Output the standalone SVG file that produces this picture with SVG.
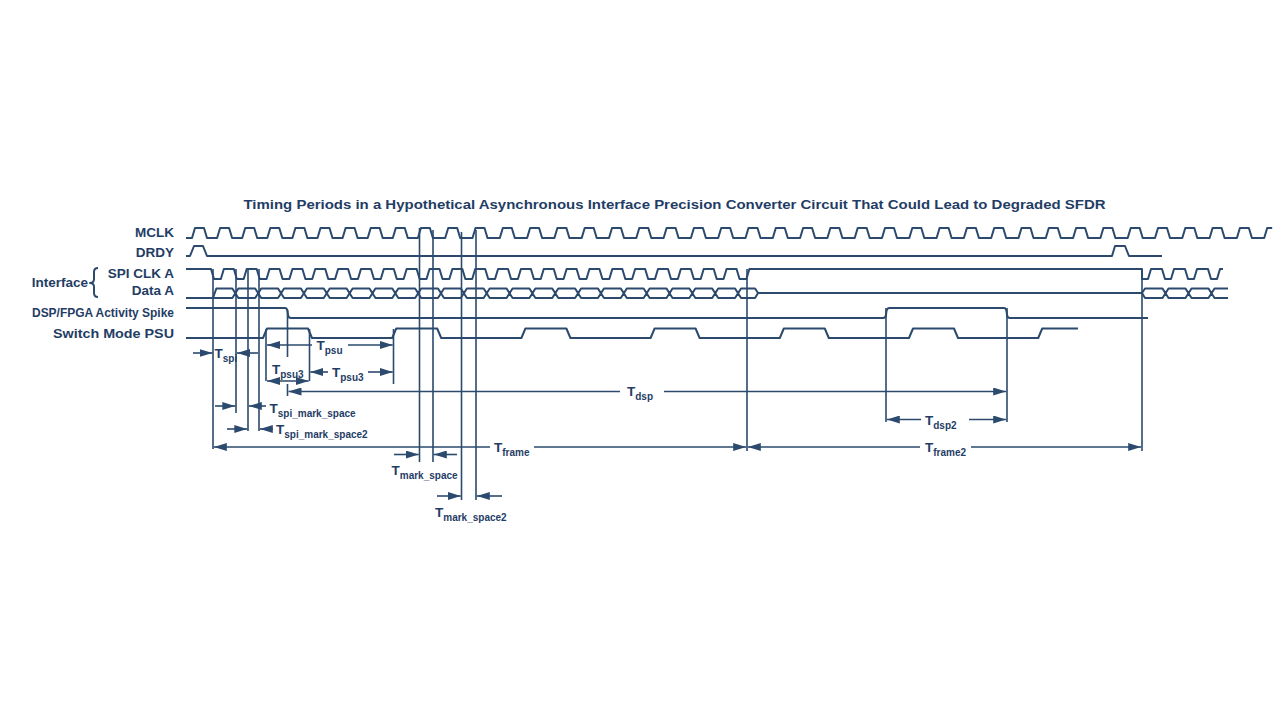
<svg xmlns="http://www.w3.org/2000/svg" width="1280" height="720" viewBox="0 0 1280 720">
<defs>
<style>
.wave{fill:none;stroke:#2b4a6e;stroke-width:2;stroke-linejoin:round}
.vl{stroke:#2b4a6e;stroke-width:1.6;fill:none}
.dim{stroke:#2b4a6e;stroke-width:1.6;fill:none;marker-end:url(#ah)}
.both{marker-start:url(#ah)}
.lbl{font-family:"Liberation Sans",Arial,sans-serif;font-weight:bold;font-size:13.5px;fill:#1f3d65}
.t{font-family:"Liberation Sans",Arial,sans-serif;font-weight:bold;font-size:13.5px;fill:#1f3d65}
.sub{font-size:10px}
</style>
<marker id="ah" viewBox="0 0 13 8" refX="13" refY="4" markerWidth="13" markerHeight="8" markerUnits="userSpaceOnUse" orient="auto-start-reverse"><path d="M0,0 L13,4 L0,8 z" fill="#2b4a6e"/></marker>
</defs>
<rect width="1280" height="720" fill="#ffffff"/>

<g id="title">
<text class="lbl" x="674.5" y="209" text-anchor="middle" textLength="862" lengthAdjust="spacingAndGlyphs">Timing Periods in a Hypothetical Asynchronous Interface Precision Converter Circuit That Could Lead to Degraded SFDR</text>
</g>

<g id="sig-mclk">
<text class="lbl" x="174" y="237" text-anchor="end">MCLK</text>
<path class="wave" d="M186,238 H192 l3,-10 h9 l3,10 h10.1 l3,-10 h9 l3,10 h10.1 l3,-10 h9 l3,10 h10.1 l3,-10 h9 l3,10 h10.1 l3,-10 h9 l3,10 h10.1 l3,-10 h9 l3,10 h10.1 l3,-10 h9 l3,10 h10.1 l3,-10 h9 l3,10 h10.1 l3,-10 h9 l3,10 h10.1 l3,-10 h9 l3,10 h12.3 l3,-10 h9 l3,10 h12.3 l3,-10 h9 l3,10 h12.3 l3,-10 h9 l3,10 h12.3 l3,-10 h9 l3,10 h12.3 l3,-10 h9 l3,10 h12.3 l3,-10 h9 l3,10 h12.3 l3,-10 h9 l3,10 h12.3 l3,-10 h9 l3,10 h12.3 l3,-10 h9 l3,10 h12.3 l3,-10 h9 l3,10 h12.3 l3,-10 h9 l3,10 h12.3 l3,-10 h9 l3,10 h12.3 l3,-10 h9 l3,10 h12.3 l3,-10 h9 l3,10 h12.3 l3,-10 h9 l3,10 h12.3 l3,-10 h9 l3,10 h12.3 l3,-10 h9 l3,10 h12.3 l3,-10 h9 l3,10 h12.3 l3,-10 h9 l3,10 h12.3 l3,-10 h9 l3,10 h12.3 l3,-10 h9 l3,10 h12.3 l3,-10 h9 l3,10 h12.3 l3,-10 h9 l3,10 h12.3 l3,-10 h9 l3,10 h12.3 l3,-10 h9 l3,10 h12.3 l3,-10 h9 l3,10 h12.3 l3,-10 h9 l3,10 h12.3 l3,-10 h9 l3,10 h12.3 l3,-10 h9 l3,10 h12.3 l3,-10 h9 l3,10 h12.3 l3,-10 h5"/>
</g>

<g id="sig-drdy">
<text class="lbl" x="174" y="257" text-anchor="end">DRDY</text>
<path class="wave" d="M186,256 H190 l4,-10 h9 l4,10 H1112 l3,-10 h10 l4,10 H1162"/>
</g>

<g id="sig-interface">
<text class="lbl" x="88" y="287" text-anchor="end">Interface</text>
<path class="wave" d="M98,268 Q94,268 94,272 L94,279 Q94,283 90,283 Q94,283 94,287 L94,293 Q94,297 98,297"/>
</g>

<g id="sig-spiclk">
<text class="lbl" x="174" y="278" text-anchor="end">SPI CLK A</text>
<path class="wave" d="M186,269 H211 l3,10 h6.85 l3,-10 h10 l3,10 h6.85 l3,-10 h10 l3,10 h6.85 l3,-10 h10 l3,10 h6.85 l3,-10 h10 l3,10 h6.85 l3,-10 h10 l3,10 h6.85 l3,-10 h10 l3,10 h6.85 l3,-10 h10 l3,10 h6.85 l3,-10 h10 l3,10 h6.85 l3,-10 h10 l3,10 h6.85 l3,-10 h10 l3,10 h6.85 l3,-10 h10 l3,10 h6.85 l3,-10 h10 l3,10 h6.85 l3,-10 h10 l3,10 h6.85 l3,-10 h10 l3,10 h6.85 l3,-10 h10 l3,10 h6.85 l3,-10 h10 l3,10 h6.85 l3,-10 h10 l3,10 h6.85 l3,-10 h10 l3,10 h6.85 l3,-10 h10 l3,10 h6.85 l3,-10 h10 l3,10 h6.85 l3,-10 h10 l3,10 h6.85 l3,-10 h10 l3,10 h6.85 l3,-10 h10 l3,10 h6.85 l3,-10 H1142 V279 h6 l3,-10 h11 l3,10 h6 l3,-10 h11 l3,10 h6 l3,-10 h11 l3,10 h6 l3,-10 h3"/>
</g>

<g id="sig-data">
<text class="lbl" x="174" y="295" text-anchor="end">Data A</text>
<path class="wave" d="M213,298 L216.35,288.5 h16 l3,4.75 l3,-4.75 h16.85 l3,4.75 l3,-4.75 h16.85 l3,4.75 l3,-4.75 h16.85 l3,4.75 l3,-4.75 h16.85 l3,4.75 l3,-4.75 h16.85 l3,4.75 l3,-4.75 h16.85 l3,4.75 l3,-4.75 h16.85 l3,4.75 l3,-4.75 h16.85 l3,4.75 l3,-4.75 h16.85 l3,4.75 l3,-4.75 h16.85 l3,4.75 l3,-4.75 h16.85 l3,4.75 l3,-4.75 h16.85 l3,4.75 l3,-4.75 h16.85 l3,4.75 l3,-4.75 h16.85 l3,4.75 l3,-4.75 h16.85 l3,4.75 l3,-4.75 h16.85 l3,4.75 l3,-4.75 h16.85 l3,4.75 l3,-4.75 h16.85 l3,4.75 l3,-4.75 h16.85 l3,4.75 l3,-4.75 h16.85 l3,4.75 l3,-4.75 h16.85 l3,4.75 l3,-4.75 h16.85 l3,4.75 l3,-4.75 h14 l3,4.5 H1142 L1145,288.5 h17.5 l3,4.75 l3,-4.75 h17 l3,4.75 l3,-4.75 h17 l3,4.75 l3,-4.75 H1228"/>
<path class="wave" d="M186,298 H232.35 l3,-4.75 l3,4.75 h16.85 l3,-4.75 l3,4.75 h16.85 l3,-4.75 l3,4.75 h16.85 l3,-4.75 l3,4.75 h16.85 l3,-4.75 l3,4.75 h16.85 l3,-4.75 l3,4.75 h16.85 l3,-4.75 l3,4.75 h16.85 l3,-4.75 l3,4.75 h16.85 l3,-4.75 l3,4.75 h16.85 l3,-4.75 l3,4.75 h16.85 l3,-4.75 l3,4.75 h16.85 l3,-4.75 l3,4.75 h16.85 l3,-4.75 l3,4.75 h16.85 l3,-4.75 l3,4.75 h16.85 l3,-4.75 l3,4.75 h16.85 l3,-4.75 l3,4.75 h16.85 l3,-4.75 l3,4.75 h16.85 l3,-4.75 l3,4.75 h16.85 l3,-4.75 l3,4.75 h16.85 l3,-4.75 l3,4.75 h16.85 l3,-4.75 l3,4.75 h16.85 l3,-4.75 l3,4.75 h16.85 l3,-4.75 l3,4.75 h14 l3,-5 M1142,293 L1145,298 h17.5 l3,-4.75 l3,4.75 h17 l3,-4.75 l3,4.75 h17 l3,-4.75 l3,4.75 H1228"/>
</g>

<g id="sig-dsp">
<text class="lbl" x="174" y="317" text-anchor="end" textLength="142" lengthAdjust="spacingAndGlyphs">DSP/FPGA Activity Spike</text>
<path class="wave" d="M186,308 H285 q2,0 2.5,3 l0.5,4 q0.5,3 3,3 H883 q2.5,0 3,-3 l0.5,-4 q0.5,-3 3,-3 H1004 q2,0 2.5,3 l0.5,4 q0.5,3 3,3 H1148"/>
</g>

<g id="sig-psu">
<text class="lbl" x="174" y="338" text-anchor="end" textLength="121" lengthAdjust="spacingAndGlyphs">Switch Mode PSU</text>
<path class="wave" d="M186,338 H263 l4,-9.5 h41 l4,9.5 H392.2 l4,-9.5 h41 l4,9.5 H521.4 l4,-9.5 h41 l4,9.5 H650.6 l4,-9.5 h41 l4,9.5 H779.8 l4,-9.5 h41 l4,9.5 H909 l4,-9.5 h41 l4,9.5 H1038.2 l4,-9.5 H1078"/>
</g>

<g id="connectors">
<g id="extension-lines">
<path class="vl" d="M213,269 V449 M236,269 V413 M248,269 V431 M259,269 V431 M266,329 V381 M309.5,329 V381 M393.5,329 V384 M287.5,310 V357 M287.5,384 V396 M419.5,228 V462 M433,230 V462 M461.5,232 V500 M476,230 V500 M747,269 V451 M886,308 V422 M1007,308 V422 M1142,269 V451"/>
</g>
<g id="dim-arrows">
<line class="dim" x1="193" y1="353" x2="212.5" y2="353"/>
<line class="dim" x1="258" y1="353" x2="237" y2="353"/>
<line class="dim" x1="312" y1="345" x2="267" y2="345"/>
<line class="dim" x1="348" y1="345" x2="392.7" y2="345"/>
<line class="dim both" x1="267" y1="381" x2="308.7" y2="381"/>
<line class="dim" x1="328" y1="372" x2="310.3" y2="372"/>
<line class="dim" x1="368" y1="372" x2="392.7" y2="372"/>
<line class="dim" x1="620" y1="391.5" x2="288.5" y2="391.5"/>
<line class="dim" x1="664" y1="391.5" x2="1006.2" y2="391.5"/>
<line class="dim" x1="215" y1="406" x2="235.3" y2="406"/>
<line class="dim" x1="266" y1="406" x2="248.8" y2="406"/>
<line class="dim" x1="227" y1="429" x2="247.3" y2="429"/>
<line class="dim" x1="273" y1="429" x2="259.8" y2="429"/>
<line class="dim" x1="490" y1="447" x2="213.8" y2="447"/>
<line class="dim" x1="534" y1="447" x2="746.2" y2="447"/>
<line class="dim" x1="920" y1="447" x2="747.8" y2="447"/>
<line class="dim" x1="971" y1="447" x2="1141.2" y2="447"/>
<line class="dim" x1="921" y1="419.5" x2="886.8" y2="419.5"/>
<line class="dim" x1="969" y1="419.5" x2="1006.2" y2="419.5"/>
<line class="dim" x1="394" y1="454.5" x2="418.7" y2="454.5"/>
<line class="dim" x1="457" y1="454.5" x2="433.8" y2="454.5"/>
<line class="dim" x1="437" y1="496" x2="460.7" y2="496"/>
<line class="dim" x1="502" y1="496" x2="476.8" y2="496"/>
</g>
<g id="dim-labels">
<text class="t" x="214.5" y="358">T<tspan class="sub" dy="3.5">spi</tspan></text>
<text class="t" x="316.5" y="350">T<tspan class="sub" dy="3.5">psu</tspan></text>
<text class="t" x="272" y="374">T<tspan class="sub" dy="3.5">psu3</tspan></text>
<text class="t" x="332" y="377">T<tspan class="sub" dy="3.5">psu3</tspan></text>
<text class="t" x="627" y="396">T<tspan class="sub" dy="3.5">dsp</tspan></text>
<text class="t" x="269.5" y="413">T<tspan class="sub" dy="3.5">spi_mark_space</tspan></text>
<text class="t" x="276" y="434">T<tspan class="sub" dy="3.5">spi_mark_space2</tspan></text>
<text class="t" x="494" y="452">T<tspan class="sub" dy="3.5">frame</tspan></text>
<text class="t" x="925" y="452">T<tspan class="sub" dy="3.5">frame2</tspan></text>
<text class="t" x="925" y="425">T<tspan class="sub" dy="3.5">dsp2</tspan></text>
<text class="t" x="391.5" y="475">T<tspan class="sub" dy="3.5">mark_space</tspan></text>
<text class="t" x="435" y="517">T<tspan class="sub" dy="3.5">mark_space2</tspan></text>
</g>
</g>
</svg>
